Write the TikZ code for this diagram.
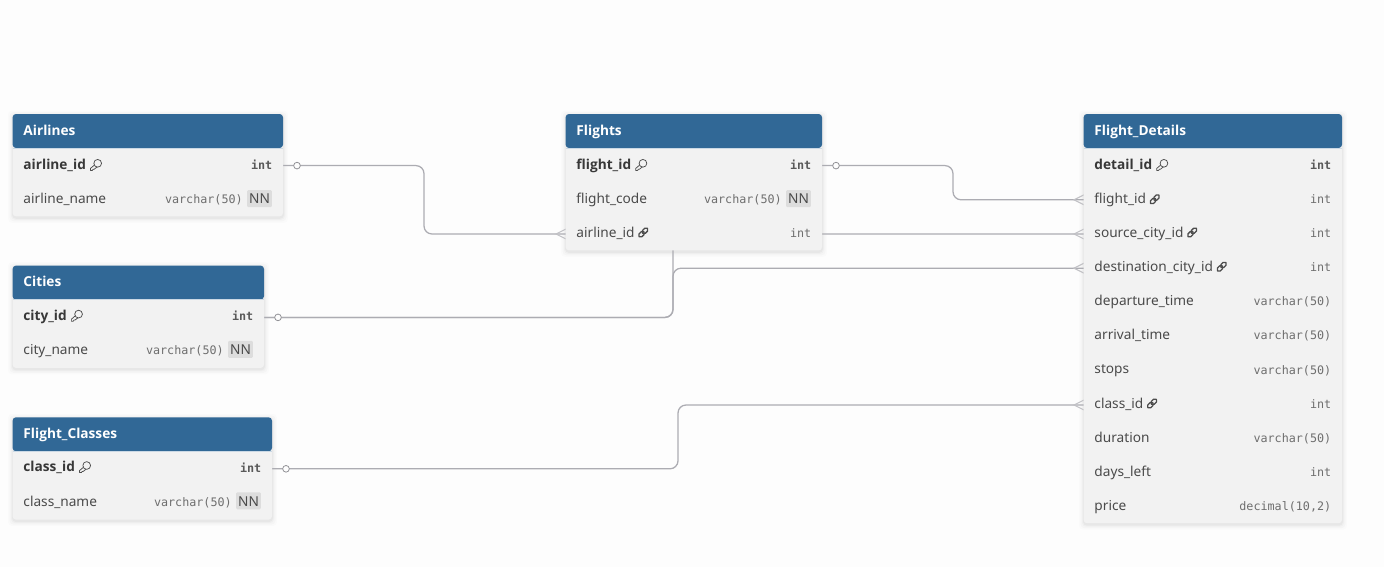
\documentclass[tikz,border=0pt]{standalone}
\usepackage{fontspec}
\setmainfont{Noto Sans}
\newfontfamily\headfont{Open Sans}
\setmonofont{DejaVu Sans Mono}
\usetikzlibrary{fit,backgrounds,calc}
\definecolor{pagebg}{HTML}{FDFDFD}
\definecolor{headblue}{HTML}{316896}
\definecolor{bodygrey}{HTML}{F2F2F2}
\definecolor{fieldtxt}{HTML}{4A4A4A}
\definecolor{typetxt}{HTML}{6E6E6E}
\definecolor{nnbg}{HTML}{DDDDDD}
\definecolor{linkline}{HTML}{ACACB2}
\tikzset{
  x=0.75pt,y=-0.75pt,
  rowbox/.style={inner sep=0pt,outer sep=0pt},
  title/.style={inner sep=0pt,anchor=base west,text=white,font=\headfont\fontsize{10.25pt}{12pt}\selectfont\bfseries},
  fname/.style={inner sep=0pt,anchor=base west,text=fieldtxt,font=\fontsize{10.25pt}{12pt}\selectfont},
  pkname/.style={inner sep=0pt,anchor=base west,text=black!78,font=\headfont\fontsize{10.25pt}{12pt}\selectfont\bfseries},
  ftype/.style={inner sep=0pt,anchor=base east,text=typetxt,font=\ttfamily\fontsize{8.8pt}{11pt}\selectfont},
  pktype/.style={inner sep=0pt,anchor=base east,text=black!65,font=\ttfamily\bfseries\fontsize{8.8pt}{11pt}\selectfont},
  nnbadge/.style={inner sep=0pt,fill=nnbg,rounded corners=1pt,minimum width=18.7pt,minimum height=12.8pt},
  nntext/.style={inner sep=0pt,anchor=base,text=fieldtxt,font=\fontsize{10.25pt}{12pt}\selectfont},
  conn/.style={draw=linkline,line width=0.95pt,rounded corners=6pt},
  foot/.style={draw=linkline!75!white,line width=0.8pt},
  onedot/.style={circle,draw=linkline!85!black,fill=pagebg,line width=0.6pt,inner sep=0pt,minimum size=5pt},
  icon/.style={draw=black!70,line width=0.55pt,line cap=round,line join=round},
}
% name, x1, y1, x2, nrows, title
\newcommand{\tablebox}[6]{%
  \pgfmathsetmacro{\tbot}{#3+34.1*(#5+1)}%
  \begin{scope}[on background layer]
    \foreach \g/\o in {5/0.012,3.5/0.018,2/0.025,1/0.03}{
      \fill[black,opacity=\o,rounded corners=3pt] (#2-\g,#3-\g+1.5) rectangle (#4+\g,\tbot+\g+1.5);
    }
  \end{scope}
  \fill[bodygrey,rounded corners=2.5pt] (#2-0.4,#3) rectangle (#4,\tbot);
  \fill[headblue,rounded corners=2.5pt] (#2-0.4,#3+34) -- (#2-0.4,#3) -- (#4,#3) -- (#4,#3+34) -- cycle;
  \draw[white!75!headblue,line width=0.5pt] (#2-0.4,#3+34.2) -- (#4,#3+34.2);
  \node[rowbox,fit={(#2,#3) (#4,#3+34.2)}] (#1) {};
  \node[title] (#1t) at (#2+10.2,#3+21) {#6};
}
% id, x1, x2, ycentre, name style, label, icon (key/link/empty), type style, NN(0/1)
\newcommand{\fld}[9]{%
  \pgfmathsetmacro{\tyb}{#4+(#4<210?4:3)}%
  \pgfmathsetmacro{\tym}{#4+(#4<210?3.7:3.2)}%
  \node[rowbox,fit={(#2,#4-17.1) (#3,#4+17.1)}] (#1) {};
  \node[#5] (#1n) at (#2+10.2,\tyb) {#6};
  \ifx\relax#7\relax\else
    \csname icon#7\endcsname{#1n}%
  \fi
  \ifnum#9=1
    \node[nnbadge] (#1nb) at (#3-23.5,\tyb-5.2) {};
    \node[nntext] at (#3-23.5,\tyb) {NN};
    \node[#8] at (#3-40,\tym) {\csname typ#1\endcsname};
  \else
    \node[#8] at (#3-10.5,\tym) {\csname typ#1\endcsname};
  \fi
}
\newcommand{\iconkey}[1]{%
  \begin{scope}[shift={($(#1.base east)+(9.5,-4.5)$)}]
    \draw[icon] (-0.9,-0.4) -- (-5.2,3.3) -- (-5.2,5.3) -- (-3.3,5.3) -- (-2.6,4.2) -- (-1.6,4.2) -- (1.4,1.8);
    \draw[icon,fill=bodygrey] (2,-1.8) circle[radius=2.9pt];
  \end{scope}}
\newcommand{\iconlink}[1]{%
  \begin{scope}[shift={($(#1.base east)+(8.5,-4.5)$)},rotate=45]
    \draw[icon,line width=0.95pt,rounded corners=1.3pt] (-5.8,-2) rectangle (0.9,2);
    \draw[icon,line width=0.95pt,rounded corners=1.3pt] (-0.9,-2) rectangle (5.8,2);
  \end{scope}}
\newcommand{\crow}[1]{%
  \begin{scope}[on background layer]
    \draw[foot] ($(#1.west)+(0,-5)$) -- ($(#1.west)+(-10,0)$) -- ($(#1.west)+(0,5)$);
  \end{scope}}
\begin{document}
\begin{tikzpicture}
\useasboundingbox (0,0) rectangle (1384,567);
\begin{scope}[on background layer]
  \fill[pagebg] (0,0) rectangle (1384,567);
\end{scope}
% Type strings, one per field
\def\typaid{int}\def\typaname{varchar(50)}
\def\typfid{int}\def\typfcode{varchar(50)}\def\typfair{int}
\def\typcid{int}\def\typcname{varchar(50)}
\def\typclid{int}\def\typclname{varchar(50)}
\def\typdid{int}\def\typdfl{int}\def\typdsrc{int}\def\typddst{int}\def\typddep{varchar(50)}\def\typdarr{varchar(50)}\def\typdstop{varchar(50)}\def\typdcl{int}\def\typddur{varchar(50)}\def\typddays{int}\def\typdprice{decimal(10,2)}

\tablebox{airlines}{13}{114}{283}{2}{Airlines}
\fld{aid}{13}{283}{165.6}{pkname}{airline\_id}{key}{pktype}{0}
\fld{aname}{13}{283}{199.8}{fname}{airline\_name}{}{ftype}{1}

\tablebox{flights}{566}{114}{822}{3}{Flights}
\fld{fid}{566}{822}{165.6}{pkname}{flight\_id}{key}{pktype}{0}
\fld{fcode}{566}{822}{199.8}{fname}{flight\_code}{}{ftype}{1}
\fld{fair}{566}{822}{234}{fname}{airline\_id}{link}{ftype}{0}

\tablebox{cities}{13}{265.6}{264}{2}{Cities}
\fld{cid}{13}{264}{317.4}{pkname}{city\_id}{key}{pktype}{0}
\fld{cname}{13}{264}{351.6}{fname}{city\_name}{}{ftype}{1}

\tablebox{classes}{13}{417.3}{272}{2}{Flight\_Classes}
\fld{clid}{13}{272}{468.8}{pkname}{class\_id}{key}{pktype}{0}
\fld{clname}{13}{272}{503}{fname}{class\_name}{}{ftype}{1}

\tablebox{details}{1084}{114}{1342}{11}{Flight\_Details}
\fld{did}{1084}{1342}{165.6}{pkname}{detail\_id}{key}{pktype}{0}
\fld{dfl}{1084}{1342}{199.8}{fname}{flight\_id}{link}{ftype}{0}
\fld{dsrc}{1084}{1342}{234}{fname}{source\_city\_id}{link}{ftype}{0}
\fld{ddst}{1084}{1342}{268.2}{fname}{destination\_city\_id}{link}{ftype}{0}
\fld{ddep}{1084}{1342}{302.4}{fname}{departure\_time}{}{ftype}{0}
\fld{darr}{1084}{1342}{336.6}{fname}{arrival\_time}{}{ftype}{0}
\fld{dstop}{1084}{1342}{370.8}{fname}{stops}{}{ftype}{0}
\fld{dcl}{1084}{1342}{405}{fname}{class\_id}{link}{ftype}{0}
\fld{ddur}{1084}{1342}{439.2}{fname}{duration}{}{ftype}{0}
\fld{ddays}{1084}{1342}{473.4}{fname}{days\_left}{}{ftype}{0}
\fld{dprice}{1084}{1342}{507.6}{fname}{price}{}{ftype}{0}

% Bend coordinates of the connectors
\coordinate (bendA) at (424,200);
\coordinate (bendB) at (953,183);
\coordinate (bendC) at (673,292);
\coordinate (bendD) at (678,436);

\begin{scope}[on background layer]
  \draw[conn] (aid.east) -| (bendA) |- (fair.west);
  \draw[conn] (fid.east) -| (bendB) |- (dfl.west);
  \draw[conn] (cid.east) -| (bendC) |- (dsrc.west);
  \draw[conn] (cid.east) -| (bendC) |- (ddst.west);
  \draw[conn] (clid.east) -| (bendD) |- (dcl.west);
\end{scope}
\crow{fair}\crow{dfl}\crow{dsrc}\crow{ddst}\crow{dcl}
\node[onedot] (oa) at ($(aid.east)+(14,0)$) {};
\node[onedot] (of) at ($(fid.east)+(14,0)$) {};
\node[onedot] (oc) at ($(cid.east)+(14,0)$) {};
\node[onedot] (ocl) at ($(clid.east)+(14,0)$) {};
\end{tikzpicture}
\end{document}
